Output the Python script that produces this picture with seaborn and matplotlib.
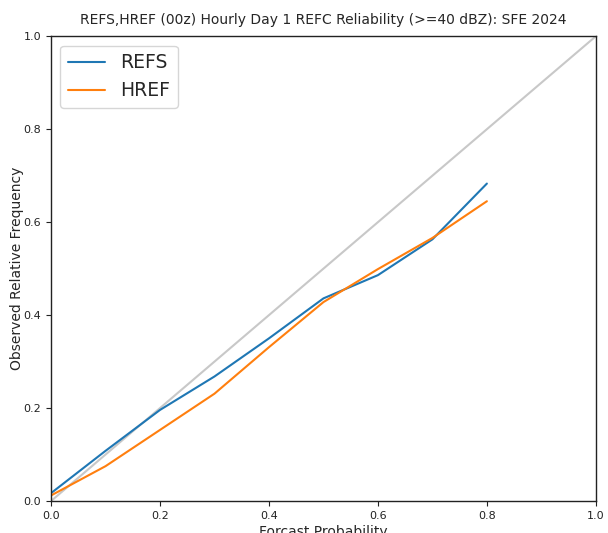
import numpy as np
import pandas as pd
import matplotlib
matplotlib.use("Agg")
import matplotlib.pyplot as plt
import seaborn as sns

# reliability values
prob_bins = [0.0, 0.1, 0.2, 0.3, 0.4, 0.5, 0.6, 0.7, 0.8]
refs_freq = [0.017, 0.108, 0.196, 0.268, 0.350, 0.436, 0.486, 0.563, 0.683]
href_freq = [0.012, 0.075, 0.153, 0.231, 0.331, 0.428, 0.499, 0.566, 0.645]
model_names = ["REFS", "HREF"]
title_text = "REFS,HREF (00z) Hourly Day 1 REFC Reliability (>=40 dBZ): SFE 2024"

sns.set_style("ticks")
plt.rcParams["font.family"] = ["DejaVu Sans"]

df = pd.concat([
	pd.DataFrame({"prob": prob_bins, "freq": refs_freq, "model": model_names[0]}),
	pd.DataFrame({"prob": prob_bins, "freq": href_freq, "model": model_names[1]}),
])

fig, ax = plt.subplots(figsize=(6.08, 5.33), dpi=100)
fig.subplots_adjust(left=0.084, right=0.980, top=0.932, bottom=0.060)

#完全信頼度の対角線
ax.plot([0, 1], [0, 1], color="#c8c8c8", lw=1.5, zorder=1)
sns.lineplot(data=df, x="prob", y="freq", hue="model", palette=["#1f77b4", "#ff7f0e"],
	lw=1.5, ax=ax, zorder=2)

ax.set_xlim(0, 1)
ax.set_ylim(0, 1)
ax.set_xticks([0, 0.2, 0.4, 0.6, 0.8, 1.0])
ax.set_yticks([0, 0.2, 0.4, 0.6, 0.8, 1.0])
ax.tick_params(labelsize=8, colors="#222222", length=3.5)
for s in ax.spines.values():
	s.set_visible(True)
	s.set_color("#222222")
	s.set_linewidth(1.0)
ax.set_xlabel("Forcast Probability", fontsize=10, labelpad=3)
ax.set_ylabel("Observed Relative Frequency", fontsize=10, labelpad=0)
ax.set_title(title_text, fontsize=10, pad=9)
leg = ax.legend(loc="upper left", fontsize=13.5, title=None, handlelength=2.0)

plt.savefig("out.png", dpi=100)
plt.close()
